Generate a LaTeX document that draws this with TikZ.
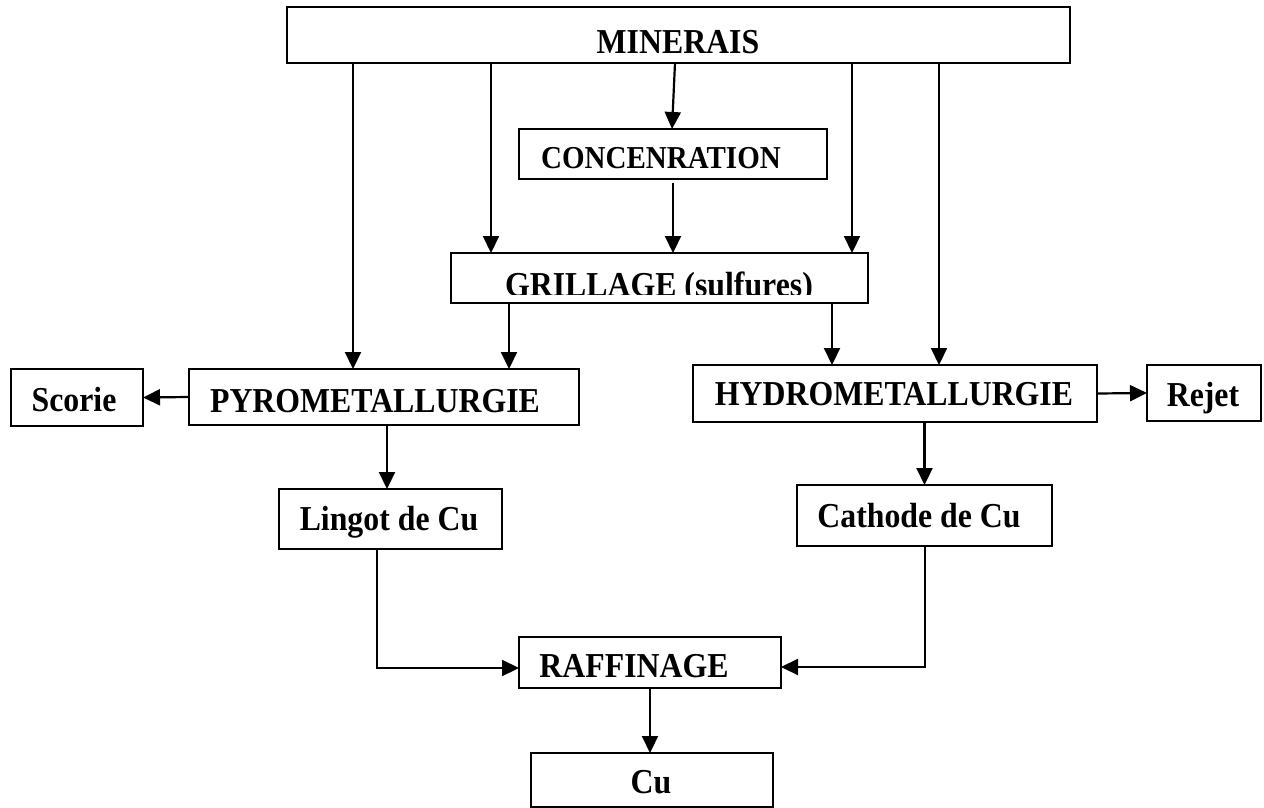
\documentclass[tikz,border=0pt]{standalone}
\usepackage{fontspec}
\setmainfont{Liberation Serif}
\usetikzlibrary{arrows.meta}

\tikzset{
  box/.style={draw, line width=1.6pt, inner sep=0pt, outer sep=0pt, fill=white},
  lbl/.style={anchor=base, inner sep=0pt, outer sep=0pt,
              font=\fontsize{31.8}{36}\selectfont\bfseries},
  lblsmall/.style={lbl, font=\fontsize{29}{34}\selectfont\bfseries},
  arr/.style={line width=2.2pt, -{Triangle[length=17pt,width=16pt]}},
}
\newcommand{\tallt}[1]{\scalebox{1}[1.1]{#1}}

\begin{document}
\begin{tikzpicture}[x=1pt, y=-1pt]
\useasboundingbox (0,0) rectangle (1264,808);

% boxes (centre, width, height)
\node[box, minimum width=783pt, minimum height=56pt] (min)     at (678.5,35) {};
\node[box, minimum width=308pt, minimum height=50pt] (conc)    at (673,154) {};
\node[box, minimum width=417pt, minimum height=50pt] (gril)    at (659.5,278) {};
\node[box, minimum width=390pt, minimum height=56pt] (pyro)    at (384,397) {};
\node[box, minimum width=132pt, minimum height=57pt] (scorie)  at (77,397.5) {};
\node[box, minimum width=404pt, minimum height=57pt] (hydro)   at (895,393.5) {};
\node[box, minimum width=114pt, minimum height=56pt] (rejet)   at (1204,393) {};
\node[box, minimum width=223pt, minimum height=60pt] (lingot)  at (390.5,519) {};
\node[box, minimum width=255pt, minimum height=61pt] (cathode) at (924.5,515.5) {};
\node[box, minimum width=262pt, minimum height=51pt] (raff)    at (650,662.5) {};
\node[box, minimum width=242pt, minimum height=54pt] (cu)      at (652,780) {};

% labels
\node[lbl] (tmin)     at (678,54)   {\tallt{MINERAIS}};
\node[lblsmall] (tconc) at (661,168) {\tallt{CONCENRATION}};
\begin{scope}
  \clip (gril.north west) rectangle (868,294);
  \node[lbl] (tgril)  at (659,296)  {\tallt{GRILLAGE (sulfures)}};
\end{scope}
\node[lbl] (tpyro)    at (375,412)  {\tallt{PYROMETALLURGIE}};
\node[lbl] (tscorie)  at (74,411)   {\tallt{Scorie}};
\node[lbl] (thydro)   at (894,405)  {\tallt{HYDROMETALLURGIE}};
\node[lbl] (trejet)   at (1203,406) {\tallt{Rejet}};
\node[lbl] (tlingot)  at (389,530)  {\tallt{Lingot de Cu}};
\node[lbl] (tcathode) at (919,527)  {\tallt{Cathode de Cu}};
\node[lbl] (traff)    at (634,677)  {\tallt{RAFFINAGE}};
\node[lbl] (tcu)      at (651,793)  {\tallt{Cu}};

% x positions of the vertical feeds
\coordinate (xa) at (353,0);
\coordinate (xb) at (491,0);
\coordinate (xc) at (675,0);
\coordinate (xd) at (672,0);
\coordinate (xe) at (852,0);
\coordinate (xf) at (939,0);
\coordinate (xg) at (509,0);
\coordinate (xh) at (832,0);
\coordinate (xi) at (387,0);
\coordinate (jl) at (377,668);
\coordinate (jr) at (925,667);

% feeds from the ore
\draw[arr] (xa |- min.south) -- (xa |- pyro.north);
\draw[arr] (xb |- min.south) -- (xb |- gril.north);
\draw[arr] (xc |- min.south) -- (xd |- conc.north);
\draw[arr] (xe |- min.south) -- (xe |- gril.north);
\draw[arr] (xf |- min.south) -- (xf |- hydro.north);

% concentration and roasting
\draw[arr, shorten <=4pt] (conc.south) -- (conc.south |- gril.north);
\draw[arr] (xg |- gril.south) -- (xg |- pyro.north);
\draw[arr] (xh |- gril.south) -- (xh |- hydro.north);

% side products
\draw[arr] (pyro.west) -- (scorie.east);
\draw[arr] (hydro.east) -- (rejet.west);

% metal products
\draw[arr] (xi |- pyro.south) -- (xi |- lingot.north);
\draw[arr] (cathode.north |- hydro.south) -- (cathode.north);

% refining
\draw[arr] (jl |- lingot.south) -- (jl) -- (jl -| raff.west);
\draw[arr] (jr |- cathode.south) -- (jr) -- (jr -| raff.east);
\draw[arr] (raff.south) -- (raff.south |- cu.north);
\end{tikzpicture}
\end{document}
